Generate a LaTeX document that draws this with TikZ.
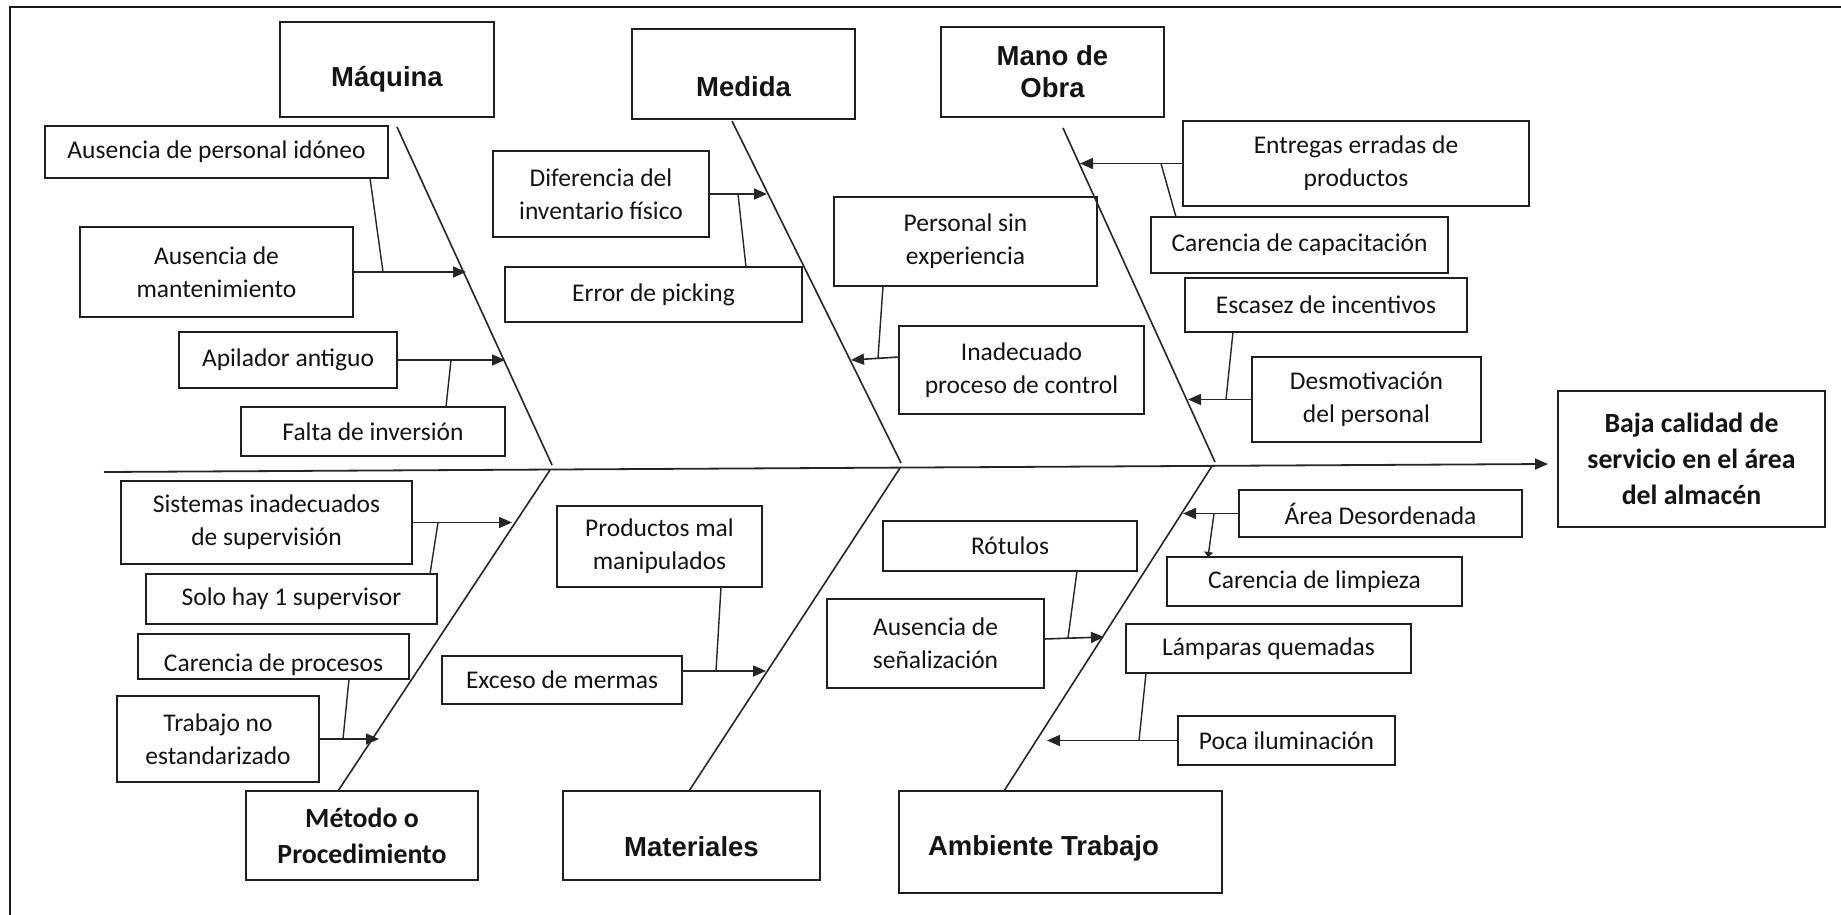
\documentclass[tikz,border=0pt]{standalone}
\usepackage{fontspec}
\setmainfont{Carlito}
\newfontfamily\arialfont{Liberation Sans}
\usetikzlibrary{arrows.meta}
\newcommand\lowered[2]{\raisebox{-#1}[\height][\depth]{#2}}
\tikzset{
  box/.style={draw=black!88, line width=1.8pt, rectangle, inner sep=0pt, outer sep=0pt,
    align=center, text=black!92, font=\fontsize{25.5}{33}\selectfont},
  head/.style={box, font=\arialfont\bfseries\fontsize{27.5}{32}\selectfont},
  boldbox/.style={box, font=\bfseries\fontsize{27.8}{36}\selectfont},
  bone/.style={draw=black!85, line width=1.6pt},
  arr/.style={bone, -{Triangle[length=13pt,width=11pt]}},
  link/.style={draw=black!85, line width=1.4pt},
}
\begin{document}
\begin{tikzpicture}[x=1pt,y=-1pt]
\useasboundingbox (0,0) rectangle (1841,915);
\fill[white] (0,0) rectangle (1841,915);
\draw[line width=2.6pt, black!90] (10,915) -- (10,7) -- (1841,7);

% category boxes
\node[head, minimum width=214pt, minimum height=95pt] (maquina) at (387,69.5) {\lowered{10pt}{Máquina}};
\node[head, minimum width=223pt, minimum height=90pt] (medida) at (743.5,74) {\lowered{13pt}{Medida}};
\node[head, minimum width=223pt, minimum height=90pt] (manoobra) at (1052.5,72) {Mano de\\Obra};
\node[boldbox, minimum width=232pt, minimum height=89pt] (metodo) at (362,835.5) {Método o\\Procedimiento};
\node[head, minimum width=257pt, minimum height=89pt] (materiales) at (691.5,835.5) {\lowered{11pt}{Materiales}};
\node[head, minimum width=323pt, minimum height=102pt] (ambiente) at (1060.5,842) {\lowered{6pt}{Ambiente Trabajo\kern34pt}};
\node[boldbox, minimum width=267pt, minimum height=136pt] (baja) at (1691.5,459) {Baja calidad de\\servicio en el área\\del almacén};

% cause boxes
\node[box, minimum width=343pt, minimum height=52pt] (aus1) at (216.5,152) {Ausencia de personal idóneo};
\node[box, minimum width=216pt, minimum height=86pt] (dif) at (601,194) {Diferencia del\\inventario físico};
\node[box, minimum width=346pt, minimum height=85pt] (entregas) at (1356,163.5) {Entregas erradas de\\productos};
\node[box, minimum width=273pt, minimum height=90pt] (manten) at (216.5,272) {Ausencia de\\mantenimiento};
\node[box, minimum width=297pt, minimum height=55pt] (picking) at (653.5,294.5) {Error de picking};
\node[box, minimum width=263pt, minimum height=89pt] (perexp) at (965.5,241.5) {Personal sin\\experiencia};
\node[box, minimum width=297pt, minimum height=56pt] (capac) at (1299.5,245) {Carencia de capacitación};
\node[box, minimum width=282pt, minimum height=54pt] (escasez) at (1326,305) {Escasez de incentivos};
\node[box, minimum width=218pt, minimum height=56pt] (apilador) at (288,360) {Apilador antiguo};
\node[box, minimum width=245pt, minimum height=88pt] (inad) at (1021.5,370) {Inadecuado\\proceso de control};
\node[box, minimum width=229pt, minimum height=85pt] (desmot) at (1366.5,399.5) {Desmotivación\\del personal};
\node[box, minimum width=264pt, minimum height=49pt] (falta) at (373,431.5) {Falta de inversión};

\node[box, minimum width=291pt, minimum height=83pt] (sistemas) at (266.5,522.5) {Sistemas inadecuados\\de supervisión};
\node[box, minimum width=291pt, minimum height=50pt] (solo) at (291.5,599) {Solo hay 1 supervisor};
\node[box, minimum width=271pt, minimum height=45pt] (carproc) at (273.5,656.5) {\lowered{8pt}{Carencia de procesos}};
\node[box, minimum width=202pt, minimum height=86pt] (trabajo) at (218,739) {Trabajo no\\estandarizado};
\node[box, minimum width=205pt, minimum height=81pt] (productos) at (659.5,546.5) {Productos mal\\manipulados};
\node[box, minimum width=240pt, minimum height=48pt] (exceso) at (562,680) {Exceso de mermas};
\node[box, minimum width=254pt, minimum height=50pt] (rotulos) at (1010,546) {Rótulos};
\node[box, minimum width=217pt, minimum height=89pt] (senal) at (935.5,643.5) {Ausencia de\\señalización};
\node[box, minimum width=283pt, minimum height=47pt] (area) at (1380.5,513.5) {Área Desordenada};
\node[box, minimum width=295pt, minimum height=49pt] (limpieza) at (1314.5,581.5) {Carencia de limpieza};
\node[box, minimum width=285pt, minimum height=49pt] (lamparas) at (1268.5,648.5) {Lámparas quemadas};
\node[box, minimum width=217pt, minimum height=49pt] (poca) at (1286.5,740.5) {Poca iluminación};

% spine
\coordinate (sp0) at (104,472);
\coordinate (sp1) at (1548,464);
\draw[arr, line width=1.8pt] (sp0) -- (sp1);

% bones
\coordinate (b1a) at (397,127);  \coordinate (b1b) at (552,465);
\coordinate (b2a) at (732,121);  \coordinate (b2b) at (901,463);
\coordinate (b3a) at (1063,128); \coordinate (b3b) at (1215,462);
\coordinate (b4a) at (550,470);  \coordinate (b4b) at (338,791);
\coordinate (b5a) at (900,468);  \coordinate (b5b) at (689,791);
\coordinate (b6a) at (1212,466); \coordinate (b6b) at (1004,791);
\draw[bone] (b1a) -- (b1b);
\draw[bone] (b2a) -- (b2b);
\draw[bone] (b3a) -- (b3b);
\draw[bone] (b4a) -- (b4b);
\draw[bone] (b5a) -- (b5b);
\draw[bone] (b6a) -- (b6b);

% Maquina causes
\coordinate (t1) at (466,272);
\draw[arr] (manten.east) -- (t1);
\coordinate (j1s) at (370,178); \coordinate (j1) at (383,272);
\draw[link] (j1s) -- (j1);
\coordinate (t2) at (505,360);
\draw[arr] (apilador.east) -- (t2);
\coordinate (j2s) at (446,407); \coordinate (j2) at (451,360);
\draw[link] (j2s) -- (j2);

% Medida causes
\coordinate (t3) at (767,194);
\draw[arr] (dif.east) -- (t3);
\coordinate (j3s) at (746,267); \coordinate (j3) at (738,194);
\draw[link] (j3s) -- (j3);
\coordinate (s4) at (899,357); \coordinate (t4) at (851,360);
\draw[arr] (s4) -- (t4);
\coordinate (j4s) at (883,286); \coordinate (j4) at (878,358);
\draw[link] (j4s) -- (j4);

% Mano de obra causes
\coordinate (t5) at (1080,163.5);
\draw[arr] (entregas.west) -- (t5);
\coordinate (j5s) at (1176,217); \coordinate (j5) at (1161,163.5);
\draw[link] (j5s) -- (j5);
\coordinate (t6) at (1188,399.5);
\draw[arr] (desmot.west) -- (t6);
\coordinate (j6s) at (1233,332); \coordinate (j6) at (1226,399.5);
\draw[link] (j6s) -- (j6);

% Metodo causes
\coordinate (t7) at (512,522.5);
\draw[arr] (sistemas.east) -- (t7);
\coordinate (j7s) at (430,574); \coordinate (j7) at (438,522.5);
\draw[link] (j7s) -- (j7);
\coordinate (t8) at (379,739);
\draw[arr] (trabajo.east) -- (t8);
\coordinate (j8s) at (349,679); \coordinate (j8) at (343,739);
\draw[link] (j8s) -- (j8);

% Materiales causes
\coordinate (s9) at (682,671); \coordinate (t9) at (766,671);
\draw[arr] (s9) -- (t9);
\coordinate (j9s) at (721,587); \coordinate (j9) at (716,671);
\draw[link] (j9s) -- (j9);

% Ambiente causes
\coordinate (s10) at (1044,639); \coordinate (t10) at (1104,637);
\draw[arr] (s10) -- (t10);
\coordinate (j10s) at (1077,571); \coordinate (j10) at (1068,638);
\draw[link] (j10s) -- (j10);
\coordinate (t11) at (1183,513.5);
\draw[arr] (area.west) -- (t11);
\coordinate (j11) at (1214,513.5); \coordinate (j11e) at (1208,557);
\draw[link, -{Triangle[length=5pt,width=9pt]}] (j11) -- (j11e);
\coordinate (t12) at (1047,740.5);
\draw[arr] (poca.west) -- (t12);
\coordinate (j12s) at (1146,673); \coordinate (j12) at (1139,740.5);
\draw[link] (j12s) -- (j12);
\end{tikzpicture}
\end{document}
